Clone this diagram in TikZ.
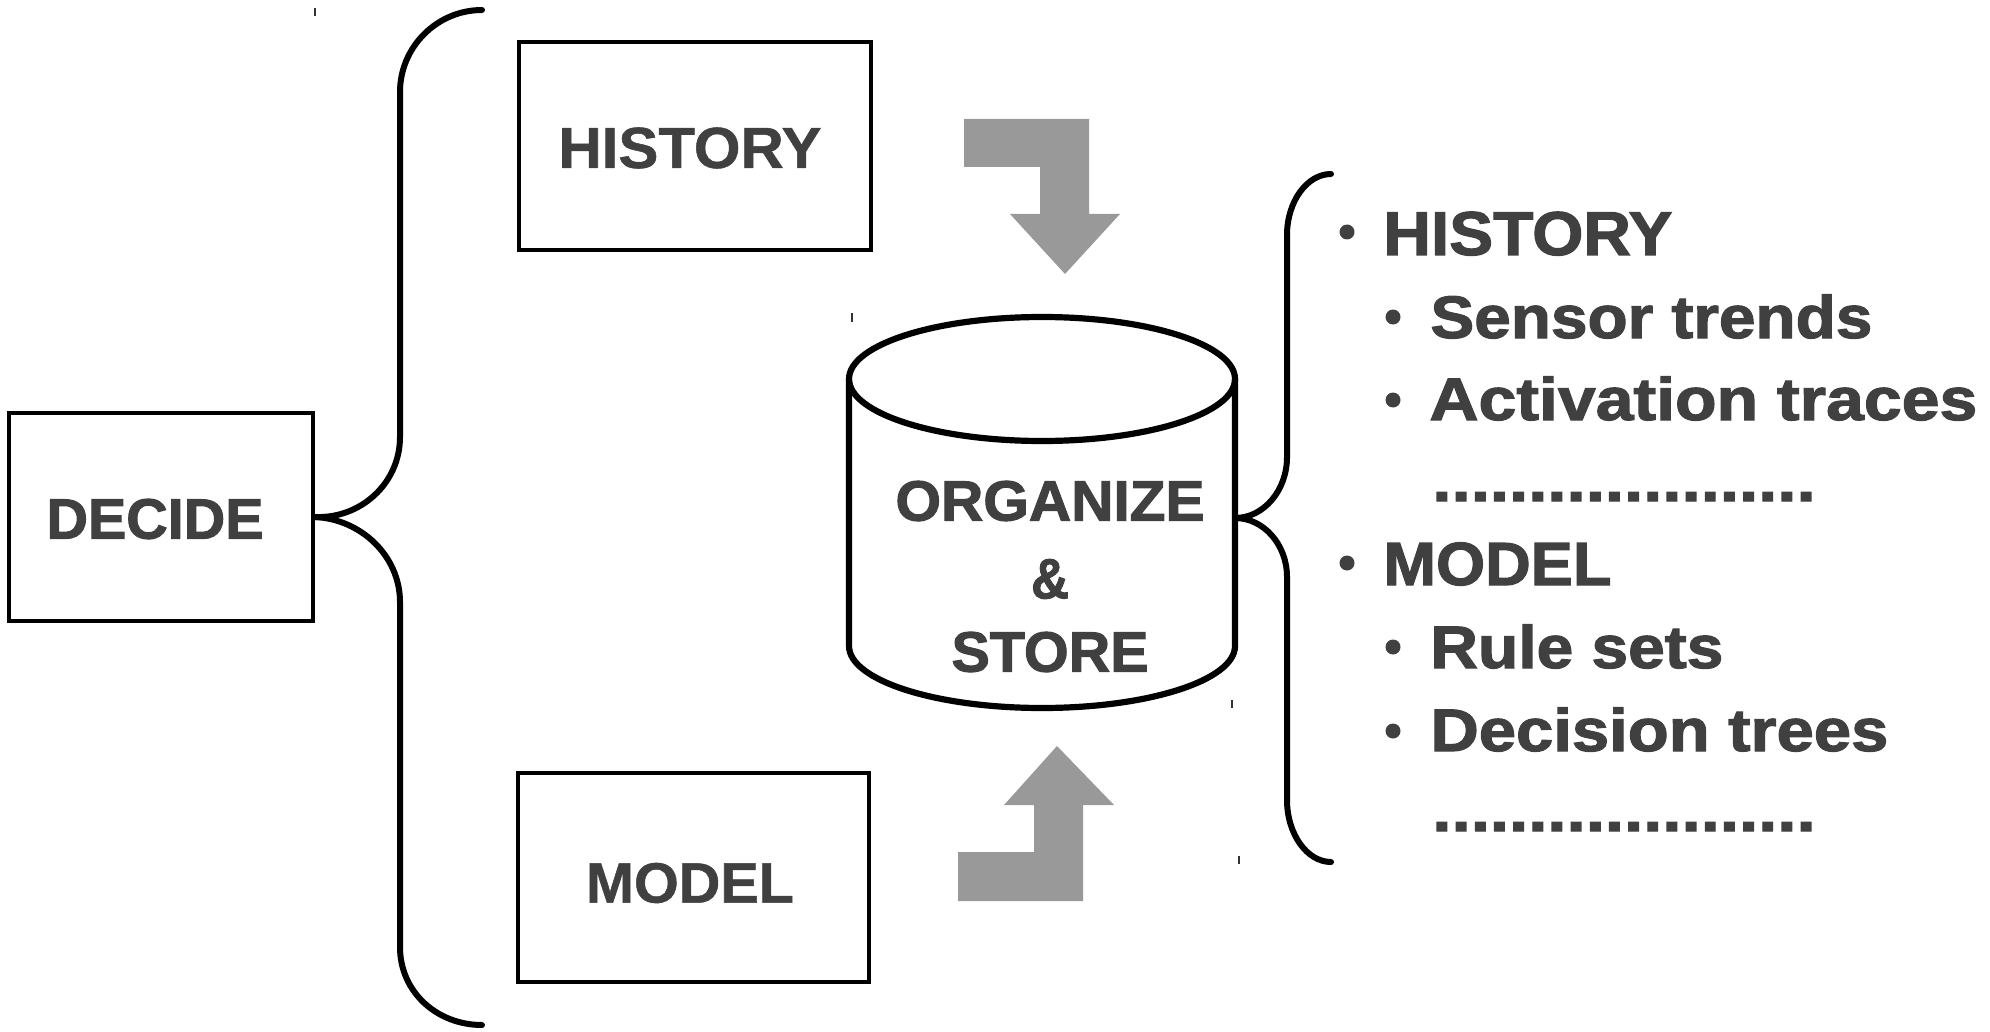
\documentclass[tikz,border=0pt]{standalone}
\usepackage{fontspec}
\usepackage{graphicx}
\setmainfont{Liberation Sans}
\newfontfamily\heavyfont[BoldFeatures={FakeBold=1.8}]{Liberation Sans}
\newfontfamily\labelfont[BoldFeatures={FakeBold=0.9}]{Liberation Sans}
% scale a piece of text horizontally to a given width, keeping its height
\newcommand{\fitw}[2]{\resizebox{#1}{\height}{#2}}
\definecolor{ink}{HTML}{404040}
\definecolor{flowgray}{HTML}{999999}
\begin{document}
\begin{tikzpicture}[x=0.5pt, y=-0.5pt,
  box/.style={draw=black, line width=1.7pt, inner sep=0pt},
  boxtext/.style={text=ink, inner sep=0pt, font=\labelfont\bfseries\fontsize{29}{29}\selectfont},
  heavytext/.style={text=ink, inner sep=0pt, font=\heavyfont\bfseries\fontsize{28.4}{28.4}\selectfont},
  listtext/.style={text=ink, anchor=base west, inner sep=0pt, font=\heavyfont\bfseries\fontsize{30}{30}\selectfont},
  bracepath/.style={draw=black, line width=3pt, line cap=round},
  cylpath/.style={draw=black, line width=3.1pt},
  flowarrow/.style={fill=flowgray, draw=none},
  dotmark/.style={circle, fill=ink, inner sep=0pt, minimum size=7.5pt},
  tickmark/.style={draw=black!80, line width=0.6pt}
]
\useasboundingbox (0,0) rectangle (1990,1032);

% left column: decide
\node[box, minimum width=152pt, minimum height=104pt] (decide) at (161,517) {};
\node[heavytext] (decidetext) at (155,519) {\fitw{108.5pt}{DECIDE}};

% sources
\node[box, minimum width=176pt, minimum height=104pt] (history) at (695,146) {};
\node[boxtext] (historytext) at (690,148) {\fitw{131.5pt}{HISTORY}};
\node[box, minimum width=175.5pt, minimum height=104.5pt] (model) at (693.5,877.5) {};
\node[boxtext, font=\labelfont\bfseries\fontsize{28.4}{28.4}\selectfont] (modeltext) at (690,883) {\fitw{104pt}{MODEL}};

% brace joining decide to both sources
\coordinate (lbtop) at (482,10);
\coordinate (lbbot) at (482,1025);
\draw[bracepath] (lbtop) .. controls (437,10) and (400,47) .. (400,92) -- (400,437)
  .. controls (400,483) and (361,519) .. (decide.east);
\draw[bracepath] (decide.east) .. controls (361,519) and (400,556) .. (400,602) -- (400,947)
  .. controls (400,992) and (437,1025) .. (lbbot);

% storage cylinder
\draw[cylpath] (1042,379) ellipse [x radius=193, y radius=62];
\draw[cylpath] (849,379) -- (849,646)
  .. controls (849,680.2) and (935.4,708) .. (1042,708)
  .. controls (1148.6,708) and (1235,680.2) .. (1235,646) -- (1235,379);
\coordinate (cylright) at (1235,518);
\node[heavytext] (organize) at (1050,501) {\fitw{154.5pt}{ORGANIZE}};
\node[heavytext] (amp) at (1050,579) {\fitw{19pt}{\&}};
\node[heavytext] (store) at (1050,652) {\fitw{98.5pt}{STORE}};

% flow arrows into the store
\fill[flowarrow] (964,119) -- (1089,119) -- (1089,214) -- (1120,214) -- (1065,274)
  -- (1010,214) -- (1040,214) -- (1040,167) -- (964,167) -- cycle;
\fill[flowarrow] (1057,746) -- (1114,805) -- (1083,805) -- (1083,901) -- (958,901)
  -- (958,852) -- (1034,852) -- (1034,805) -- (1004,805) -- cycle;

% brace from the store to its contents
\coordinate (rbtop) at (1331,174);
\coordinate (rbbot) at (1331,862);
\draw[bracepath] (rbtop) .. controls (1307,174) and (1287,201.5) .. (1287,235) -- (1287,457)
  .. controls (1287,490.5) and (1263.6,518) .. (cylright);
\draw[bracepath] (cylright) .. controls (1263.6,518) and (1287,544.5) .. (1287,577) -- (1287,800)
  .. controls (1287,834) and (1307,862) .. (rbbot);

% contents list
\node[dotmark] (b1) at (1347,232) {};
\node[listtext, font=\heavyfont\bfseries\fontsize{31}{31}\selectfont] (l1) at (1383,255) {\fitw{144.5pt}{HISTORY}};
\node[dotmark] (b2) at (1393,317) {};
\node[listtext] (l2) at (1430,338) {\fitw{221pt}{Sensor trends}};
\node[dotmark] (b3) at (1393,400) {};
\node[listtext] (l3) at (1429,420) {\fitw{274pt}{Activation traces}};
\node[listtext] (l4) at (1432,501) {\fitw{191.5pt}{....................}};
\node[dotmark] (b5) at (1347,563) {};
\node[listtext, font=\heavyfont\bfseries\fontsize{30.5}{30.5}\selectfont] (l5) at (1383,585) {\fitw{114pt}{MODEL}};
\node[dotmark] (b6) at (1393,647) {};
\node[listtext] (l6) at (1430,668) {\fitw{146.5pt}{Rule sets}};
\node[dotmark] (b7) at (1393,731) {};
\node[listtext] (l7) at (1430,751) {\fitw{229pt}{Decision trees}};
\node[listtext] (l8) at (1432,831) {\fitw{191.5pt}{....................}};

% small registration ticks
\draw[tickmark] (315,8) -- (315,16);
\draw[tickmark] (852,313) -- (852,322);
\draw[tickmark] (1232,700) -- (1232,708);
\draw[tickmark] (1239,856) -- (1239,864);
\end{tikzpicture}
\end{document}
